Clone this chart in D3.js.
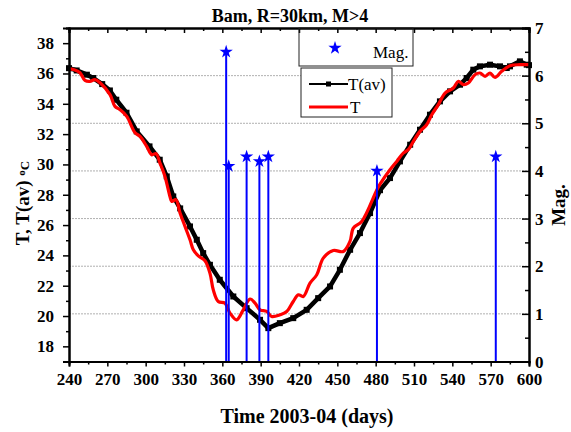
<!DOCTYPE html>
<html>
<head>
<meta charset="utf-8">
<script src="https://cdn.jsdelivr.net/npm/d3@7"></script>
<style>
  body { margin: 0; background: #fff; }
  text { font-family: "Liberation Serif", "Times New Roman", serif; }
</style>
</head>
<body>
<script>
// T(av) series (days, deg C)
var avDays = [240, 246, 254, 259, 266, 272, 277, 285, 293, 303, 311, 316.5, 321.6, 327, 334.7, 340, 345, 350.3, 358, 368.6, 379, 389.5, 396, 405, 415.5, 426, 435, 444.3, 452, 460, 467.7, 475.6, 483.4, 491.2, 499, 507, 514.7, 522.5, 530.3, 538.2, 546, 551.2, 556.4, 561.6, 569.5, 577.3, 582.6, 585.1, 592.9, 598.2, 600];
var avTemp = [36.35, 36.2, 35.92, 35.7, 35.3, 34.88, 34.27, 33.41, 32.18, 31.19, 30.31, 29.21, 27.89, 27.1, 25.91, 25.03, 24.15, 23.38, 22.39, 21.29, 20.52, 19.75, 19.2, 19.53, 19.86, 20.41, 21.18, 21.95, 23.05, 24.37, 25.47, 26.79, 28.3, 29.1, 30.2, 31.3, 32.29, 33.28, 34.16, 34.82, 35.26, 35.7, 36.25, 36.47, 36.58, 36.47, 36.36, 36.47, 36.8, 36.58, 36.55];

// T series (days, deg C)
var tDays = [240, 244, 248.6, 252.5, 256.4, 260.3, 264.3, 272.1, 276, 279.9, 285.2, 291.7, 295.6, 300.8, 304.7, 308.1, 311.2, 315.1, 319, 320.4, 323.7, 326.9, 330.8, 334.7, 337.3, 341.2, 346.4, 350.3, 352.9, 356.8, 362.1, 366, 371.2, 376.4, 381.7, 385.6, 389.5, 394.7, 398.6, 405.1, 410.4, 415.5, 419.5, 423.4, 428.6, 433.9, 439, 446.8, 454.7, 459.9, 462.5, 469.1, 480.8, 483.4, 491.2, 496.5, 501.6, 505.5, 509.5, 514.7, 519.9, 523.9, 529, 534.3, 540.8, 544.7, 548.6, 552.5, 557.7, 561.6, 565.6, 569.5, 573.4, 578.6, 585.1, 592.9, 600];
var tTemp = [36.3, 36.25, 36.05, 35.54, 35.48, 35.59, 35.39, 34.6, 33.83, 33.61, 33.17, 32.09, 31.85, 31.19, 30.64, 30.71, 30.09, 29.21, 27.89, 27.56, 27.67, 26.79, 25.91, 25.03, 24.37, 23.97, 23.65, 22.83, 21.73, 20.96, 20.85, 20.19, 19.75, 20.41, 21.12, 20.85, 20.41, 20.3, 19.97, 20.08, 20.3, 20.96, 21.4, 21.29, 22.17, 22.72, 23.82, 24.32, 24.26, 24.92, 25.8, 26.24, 28.3, 28.7, 29.65, 30.2, 30.75, 30.97, 31.52, 32.18, 32.62, 33.28, 33.94, 34.71, 35.04, 35.48, 35.26, 35.37, 35.92, 36.03, 35.81, 36.03, 35.74, 36.14, 36.51, 36.58, 36.58];

// earthquakes (days, magnitude)
var eqDays = [363, 365, 379, 389, 396, 481, 574];
var eqMag = [6.5, 4.1, 4.3, 4.2, 4.3, 4.0, 4.3];

var xTicks = [240, 270, 300, 330, 360, 390, 420, 450, 480, 510, 540, 570, 600];
var yTicks = [18, 20, 22, 24, 26, 28, 30, 32, 34, 36, 38];
var magTicks = [0, 1, 2, 3, 4, 5, 6, 7];

var W = 571, H = 432;
var L = 69, R = 529, T = 28, B = 361.5;

var svg = d3.select('body').append('svg').attr('width', W).attr('height', H);

var x = d3.scaleLinear().domain([240, 600]).range([L, R]);
var yL = d3.scaleLinear().domain([17, 39]).range([B, T]);
var yR = d3.scaleLinear().domain([0, 7]).range([B, T]);

// grid lines follow the right axis
svg.selectAll('line.grid')
    .data([1, 2, 3, 4, 5, 6])
    .enter().append('line')
        .attr('class', 'grid')
        .attr('x1', L).attr('x2', R)
        .attr('y1', function(d){ return yR(d); })
        .attr('y2', function(d){ return yR(d); })
        .attr('stroke', '#b0b0b0')
        .attr('stroke-width', 1)
        .attr('stroke-dasharray', '2,1');

// T(av) black line with square markers
var avData = avDays.map(function(d, i){ return [d, avTemp[i]]; });
var line = d3.line().x(function(d){ return x(d[0]); }).y(function(d){ return yL(d[1]); });

svg.append('path')
    .datum(avData)
    .attr('d', line)
    .attr('fill', 'none')
    .attr('stroke', '#000')
    .attr('stroke-width', 4.5)
    .attr('stroke-linejoin', 'round');

svg.selectAll('rect.av')
    .data(avData)
    .enter().append('rect')
        .attr('class', 'av')
        .attr('x', function(d){ return x(d[0]) - 3; })
        .attr('y', function(d){ return yL(d[1]) - 3; })
        .attr('width', 6).attr('height', 6)
        .attr('fill', '#000');

// T red line
var tData = tDays.map(function(d, i){ return [d, tTemp[i]]; });
svg.append('path')
    .datum(tData)
    .attr('d', line.curve(d3.curveCatmullRom))
    .attr('fill', 'none')
    .attr('stroke', '#ff0000')
    .attr('stroke-width', 3.2)
    .attr('stroke-linejoin', 'round');

// magnitude stems
var eqData = eqDays.map(function(d, i){ return [d, eqMag[i]]; });
svg.selectAll('line.stem')
    .data(eqData)
    .enter().append('line')
        .attr('class', 'stem')
        .attr('x1', function(d){ return x(d[0]); })
        .attr('x2', function(d){ return x(d[0]); })
        .attr('y1', yR(0))
        .attr('y2', function(d){ return yR(d[1]); })
        .attr('stroke', '#0000ff')
        .attr('stroke-width', 2);

var star = d3.symbol().type(d3.symbolStar).size(55);
svg.selectAll('path.star')
    .data(eqData)
    .enter().append('path')
        .attr('class', 'star')
        .attr('d', star)
        .attr('transform', function(d){ return 'translate(' + x(d[0]) + ',' + yR(d[1]) + ')'; })
        .attr('fill', '#0000ff');

// axes
function styleAxis(g) {
    g.select('.domain').attr('stroke', '#000').attr('stroke-width', 2);
    g.selectAll('.tick line').attr('stroke', '#000').attr('stroke-width', 1.5);
    g.selectAll('.tick text')
        .attr('fill', '#000')
        .style('font-family', '"Liberation Serif", "Times New Roman", serif')
        .style('font-size', '17px')
        .style('font-weight', 'bold');
}

var xMinor = d3.range(255, 600, 30);
var yMinor = d3.range(17, 40, 2);
var magMinor = d3.range(0.5, 7, 1);

// bottom
var gB = svg.append('g').attr('transform', 'translate(0,' + B + ')');
gB.call(d3.axisBottom(x).tickValues(xTicks).tickSize(5).tickPadding(6).tickFormat(d3.format('d')));
styleAxis(gB);
var gBm = svg.append('g').attr('transform', 'translate(0,' + B + ')');
gBm.call(d3.axisBottom(x).tickValues(xMinor).tickSize(3).tickFormat(''));
styleAxis(gBm);

// top (inward ticks)
var gT = svg.append('g').attr('transform', 'translate(0,' + T + ')');
gT.call(d3.axisBottom(x).tickValues(xTicks).tickSize(5).tickFormat(''));
styleAxis(gT);
var gTm = svg.append('g').attr('transform', 'translate(0,' + T + ')');
gTm.call(d3.axisBottom(x).tickValues(xMinor).tickSize(3).tickFormat(''));
styleAxis(gTm);

// left
var gL = svg.append('g').attr('transform', 'translate(' + L + ',0)');
gL.call(d3.axisLeft(yL).tickValues(yTicks).tickSize(6).tickPadding(9));
styleAxis(gL);
var gLm = svg.append('g').attr('transform', 'translate(' + L + ',0)');
gLm.call(d3.axisLeft(yL).tickValues(yMinor).tickSize(3).tickFormat(''));
styleAxis(gLm);

// right (inward ticks)
var gR = svg.append('g').attr('transform', 'translate(' + R + ',0)');
gR.call(d3.axisLeft(yR).tickValues(magTicks).tickSize(7).tickFormat(''));
styleAxis(gR);
var gRm = svg.append('g').attr('transform', 'translate(' + R + ',0)');
gRm.call(d3.axisLeft(yR).tickValues(magMinor).tickSize(4).tickFormat(''));
styleAxis(gRm);
svg.selectAll('text.magtick')
    .data(magTicks)
    .enter().append('text')
        .attr('class', 'magtick')
        .attr('x', R + 6)
        .attr('y', function(d){ return yR(d) + 6; })
        .style('font-size', '17px')
        .style('font-weight', 'bold')
        .text(function(d){ return d; });

// titles
svg.append('text')
    .attr('x', 290).attr('y', 22)
    .attr('text-anchor', 'middle')
    .style('font-size', '18px').style('font-weight', 'bold')
    .text('Bam, R=30km, M>4');

svg.append('text')
    .attr('x', 307).attr('y', 423)
    .attr('text-anchor', 'middle')
    .style('font-size', '20px').style('font-weight', 'bold')
    .text('Time 2003-04 (days)');

var yl = svg.append('text')
    .attr('transform', 'translate(29,203) rotate(-90)')
    .attr('text-anchor', 'middle')
    .style('font-size', '19px').style('font-weight', 'bold');
yl.append('tspan').text('T, T(av) ');
yl.append('tspan').style('font-size', '11px').attr('dy', -4).text('o');
yl.append('tspan').style('font-size', '13px').attr('dy', 4).text('C');

svg.append('text')
    .attr('transform', 'translate(565,205) rotate(-90)')
    .attr('text-anchor', 'middle')
    .style('font-size', '19px').style('font-weight', 'bold')
    .text('Mag.');

// legends
svg.append('rect')
    .attr('x', 299).attr('y', 28).attr('width', 114).attr('height', 38)
    .attr('fill', '#fff').attr('fill-opacity', 0).attr('stroke', '#222').attr('stroke-width', 1);
svg.append('path')
    .attr('d', star)
    .attr('transform', 'translate(335,48)')
    .attr('fill', '#0000ff');
svg.append('text')
    .attr('x', 373).attr('y', 58)
    .style('font-size', '17px')
    .text('Mag.');

svg.append('rect')
    .attr('x', 301).attr('y', 68).attr('width', 91).attr('height', 49)
    .attr('fill', '#fff').attr('stroke', '#222').attr('stroke-width', 1);
svg.append('line')
    .attr('x1', 309).attr('x2', 348).attr('y1', 84).attr('y2', 84)
    .attr('stroke', '#000').attr('stroke-width', 2);
svg.append('rect')
    .attr('x', 326).attr('y', 81.5).attr('width', 5).attr('height', 5)
    .attr('fill', '#000');
svg.append('text')
    .attr('x', 348).attr('y', 90)
    .style('font-size', '17px')
    .text('T(av)');
svg.append('line')
    .attr('x1', 309).attr('x2', 348).attr('y1', 107).attr('y2', 107)
    .attr('stroke', '#ff0000').attr('stroke-width', 3);
svg.append('text')
    .attr('x', 350).attr('y', 113)
    .style('font-size', '17px')
    .text('T');
</script>
</body>
</html>
